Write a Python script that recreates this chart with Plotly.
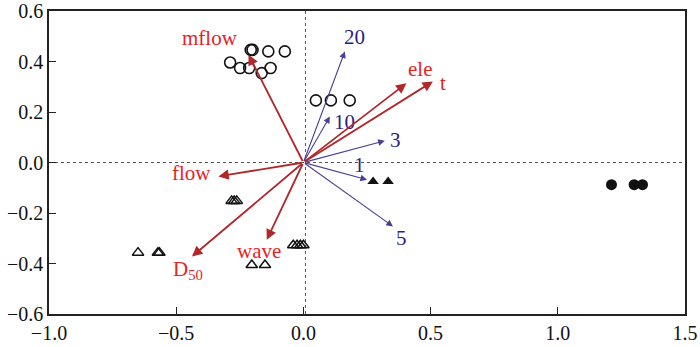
import plotly.graph_objects as go

# ---- sample scores ----
open_circle_x = [-0.288, -0.249, -0.213, -0.207, -0.200, -0.164, -0.138, -0.129, -0.073, 0.049, 0.108, 0.182]
open_circle_y = [0.396, 0.374, 0.374, 0.446, 0.446, 0.354, 0.440, 0.374, 0.440, 0.246, 0.246, 0.246]

filled_circle_x = [1.211, 1.300, 1.333]
filled_circle_y = [-0.088, -0.088, -0.088]

filled_tri_x = [0.274, 0.333]
filled_tri_y = [-0.075, -0.075]

open_tri_x = [-0.282, -0.272, -0.262, -0.650, -0.572, -0.566, -0.203, -0.151, -0.040, -0.025, -0.012, 0.000]
open_tri_y = [-0.152, -0.152, -0.152, -0.357, -0.357, -0.357, -0.406, -0.406, -0.328, -0.328, -0.328, -0.328]

# ---- environmental vectors (red) ----
env_names = ["mflow", "ele", "t", "flow", "D<sub>50</sub>", "wave"]
env_x = [-0.216, 0.405, 0.509, -0.334, -0.438, -0.144]
env_y = [0.427, 0.314, 0.321, -0.055, -0.372, -0.306]
env_lab_x = [-0.367, 0.457, 0.548, -0.44, -0.452, -0.173]
env_lab_y = [0.494, 0.370, 0.314, -0.042, -0.425, -0.350]

# ---- species / size vectors (blue) ----
sp_names = ["20", "10", "3", "1", "5"]
sp_x = [0.163, 0.104, 0.320, 0.250, 0.352]
sp_y = [0.440, 0.182, 0.086, -0.068, -0.253]
sp_lab_x = [0.200, 0.160, 0.362, 0.222, 0.385]
sp_lab_y = [0.497, 0.160, 0.088, -0.008, -0.300]

RED_LINE = "#b0282a"
RED_TEXT = "#e8231f"
BLUE_LINE = "#4a3f95"
BLUE_TEXT = "#2e1b86"
FONT = "Liberation Serif, Times New Roman, serif"

fig = go.Figure()

fig.add_trace(go.Scatter(x=open_circle_x, y=open_circle_y, mode="markers",
                         marker=dict(symbol="circle-open", size=11, color="#111",
                                     line=dict(width=1.6, color="#111")),
                         showlegend=False, hoverinfo="skip"))
fig.add_trace(go.Scatter(x=filled_circle_x, y=filled_circle_y, mode="markers",
                         marker=dict(symbol="circle", size=11, color="#111"),
                         showlegend=False, hoverinfo="skip"))
fig.add_trace(go.Scatter(x=filled_tri_x, y=filled_tri_y, mode="markers",
                         marker=dict(symbol="triangle-up", size=10, color="#111"),
                         showlegend=False, hoverinfo="skip"))
fig.add_trace(go.Scatter(x=open_tri_x, y=open_tri_y, mode="markers",
                         marker=dict(symbol="triangle-up-open", size=10, color="#111",
                                     line=dict(width=1.5, color="#111")),
                         showlegend=False, hoverinfo="skip"))

annotations = []
for i in range(len(sp_names)):
    annotations.append(dict(x=sp_x[i], y=sp_y[i], ax=0, ay=0, xref="x", yref="y",
                            axref="x", ayref="y", text="", showarrow=True,
                            arrowhead=2, arrowsize=1.2, arrowwidth=1.1,
                            arrowcolor=BLUE_LINE, standoff=0))
    annotations.append(dict(x=sp_lab_x[i], y=sp_lab_y[i], xref="x", yref="y",
                            text=sp_names[i], showarrow=False,
                            font=dict(family=FONT, size=21, color=BLUE_TEXT)))
for i in range(len(env_names)):
    annotations.append(dict(x=env_x[i], y=env_y[i], ax=0, ay=0, xref="x", yref="y",
                            axref="x", ayref="y", text="", showarrow=True,
                            arrowhead=2, arrowsize=1.15, arrowwidth=1.8,
                            arrowcolor=RED_LINE, standoff=0))
    annotations.append(dict(x=env_lab_x[i], y=env_lab_y[i], xref="x", yref="y",
                            text=env_names[i], showarrow=False,
                            font=dict(family=FONT, size=21, color=RED_TEXT)))

shapes = [
    dict(type="line", xref="x", yref="y", x0=-1.0, x1=1.5, y0=0, y1=0,
         line=dict(color="#555", width=1, dash="dot"), layer="below"),
    dict(type="line", xref="x", yref="y", x0=0.008, x1=0.008, y0=-0.6, y1=0.6,
         line=dict(color="#555", width=1, dash="dot"), layer="below"),
]

axis_common = dict(showgrid=False, zeroline=False, showline=True, linecolor="#222",
                   linewidth=1.5, mirror=True, ticks="inside", ticklen=7,
                   tickcolor="#222", automargin=False,
                   tickfont=dict(family=FONT, size=20, color="#111"))

fig.update_layout(
    width=700, height=347,
    margin=dict(l=49, r=15, t=11, b=33),
    paper_bgcolor="white", plot_bgcolor="white",
    xaxis=dict(range=[-1.0, 1.5], tickvals=[-1.0, -0.5, 0.0, 0.5, 1.0, 1.5],
               tickformat=".1f", **axis_common),
    yaxis=dict(range=[-0.6, 0.6], tickvals=[-0.6, -0.4, -0.2, 0.0, 0.2, 0.4, 0.6],
               tickformat=".1f", **axis_common),
    annotations=annotations,
    shapes=shapes,
)

fig.write_html("out.html")
